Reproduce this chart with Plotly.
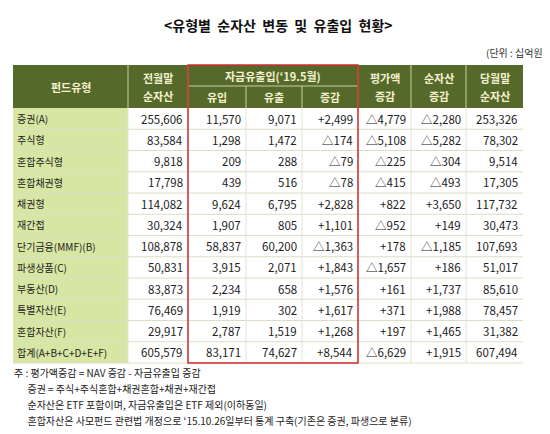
import plotly.graph_objects as go

title = "<유형별  순자산  변동  및  유출입  현황>"
unit = "(단위 : 십억원)"
fund_types = ["증권(A)", "주식형", "혼합주식형", "혼합채권형", "채권형", "재간접",
              "단기금융(MMF)(B)", "파생상품(C)", "부동산(D)", "특별자산(E)", "혼합자산(F)", "합계(A+B+C+D+E+F)"]
prev_nav = ["255,606", "83,584", "9,818", "17,798", "114,082", "30,324", "108,878", "50,831", "83,873", "76,469", "29,917", "605,579"]
inflow = ["11,570", "1,298", "209", "439", "9,624", "1,907", "58,837", "3,915", "2,234", "1,919", "2,787", "83,171"]
outflow = ["9,071", "1,472", "288", "516", "6,795", "805", "60,200", "2,071", "658", "302", "1,519", "74,627"]
net_flow = ["+2,499", "△174", "△79", "△78", "+2,828", "+1,101", "△1,363", "+1,843", "+1,576", "+1,617", "+1,268", "+8,544"]
valuation = ["△4,779", "△5,108", "△225", "△415", "+822", "△952", "+178", "△1,657", "+161", "+371", "+197", "△6,629"]
nav_change = ["△2,280", "△5,282", "△304", "△493", "+3,650", "+149", "△1,185", "+186", "+1,737", "+1,988", "+1,465", "+1,915"]
cur_nav = ["253,326", "78,302", "9,514", "17,305", "117,732", "30,473", "107,693", "51,017", "85,610", "78,457", "31,382", "607,494"]
notes = ["주 : 평가액증감 = NAV 증감 - 자금유출입 증감",
         "      증권 = 주식+주식혼합+채권혼합+채권+재간접",
         "      순자산은 ETF 포함이며, 자금유출입은 ETF 제외(이하동일)",
         "      혼합자산은 사모펀드 관련법 개정으로 ‘15.10.26일부터 통계 구축(기존은 증권, 파생으로 분류)"]

cols = [5, 120, 180, 238, 294, 350, 403, 458, 515]
top, mid, hb = 57, 78, 100
rh = 21.25
F = "Noto Sans CJK KR"
HG = "#55692a"; HT = "#f4f1d0"

fig = go.Figure()
shapes = []; ann = []
def A(x, y, t, size=11, color="#222", xa="center", **k):
    ann.append(dict(x=x, y=y, text=t, showarrow=False, xanchor=xa, yanchor="middle",
                    font=dict(family=F, size=size, color=color), **k))

shapes.append(dict(type="rect", x0=cols[0], x1=cols[-1], y0=top, y1=hb, fillcolor=HG, line=dict(width=0), layer="below"))
for c in cols[1:-1]:
    y0 = mid if c in (238, 294) else top
    shapes.append(dict(type="line", x0=c, x1=c, y0=y0, y1=hb, line=dict(color="#c8d0a8", width=1)))
shapes.append(dict(type="line", x0=180, x1=350, y0=mid, y1=mid, line=dict(color="#c8d0a8", width=1)))
A((cols[0]+cols[1])/2, (top+hb)/2, "<b>펀드유형</b>", 11, HT)
A(265, (top+mid)/2, "<b>자금유출입(‘19.5월)</b>", 11, HT)
for i, t in enumerate(["유입", "유출", "증감"]):
    A((cols[2+i]+cols[3+i])/2, (mid+hb)/2, "<b>"+t+"</b>", 11, HT)
for (c0, c1), (l1, l2) in zip([(120, 180), (350, 403), (403, 458), (458, 515)],
                              [("전월말", "순자산"), ("평가액", "증감"), ("순자산", "증감"), ("당월말", "순자산")]):
    A((c0+c1)/2, (top+hb)/2 - 9, "<b>"+l1+"</b>", 11, HT)
    A((c0+c1)/2, (top+hb)/2 + 9, "<b>"+l2+"</b>", 11, HT)

data_cols = [prev_nav, inflow, outflow, net_flow, valuation, nav_change, cur_nav]
for r, name in enumerate(fund_types):
    y0 = hb + r*rh; y1 = y0 + rh; yc = (y0+y1)/2
    shapes.append(dict(type="rect", x0=cols[0], x1=cols[1], y0=y0, y1=y1, fillcolor="#d8e6a4", line=dict(width=0), layer="below"))
    shapes.append(dict(type="line", x0=cols[0], x1=cols[-1], y0=y1, y1=y1, line=dict(color="#d9dfc4", width=1)))
    A(cols[0]+2, yc, name, 10, "#222", xa="left")
    for j, colv in enumerate(data_cols):
        A(cols[2+j]-3, yc, colv[r], 11.5, "#222", xa="right")
bot = hb + len(fund_types)*rh
for c in cols[1:-1]:
    shapes.append(dict(type="line", x0=c, x1=c, y0=hb, y1=bot, line=dict(color="#e2e6d4", width=1)))
shapes.append(dict(type="rect", x0=180, x1=350, y0=top, y1=bot, line=dict(color="#d22b2b", width=1.5)))

A(270, 17, "<b>"+title+"</b>", 14, "#111")
A(540, 44, unit, 10, "#333", xa="right")
for i, n in enumerate(notes):
    A(4, 364 + i*16, n, 10, "#222", xa="left")

fig.update_layout(width=550, height=434, margin=dict(l=0, r=0, t=0, b=0),
                  plot_bgcolor="white", paper_bgcolor="white", shapes=shapes, annotations=ann,
                  xaxis=dict(range=[0, 550], visible=False, fixedrange=True),
                  yaxis=dict(range=[434, 0], visible=False, fixedrange=True),
                  showlegend=False)
fig.write_html("out.html")
